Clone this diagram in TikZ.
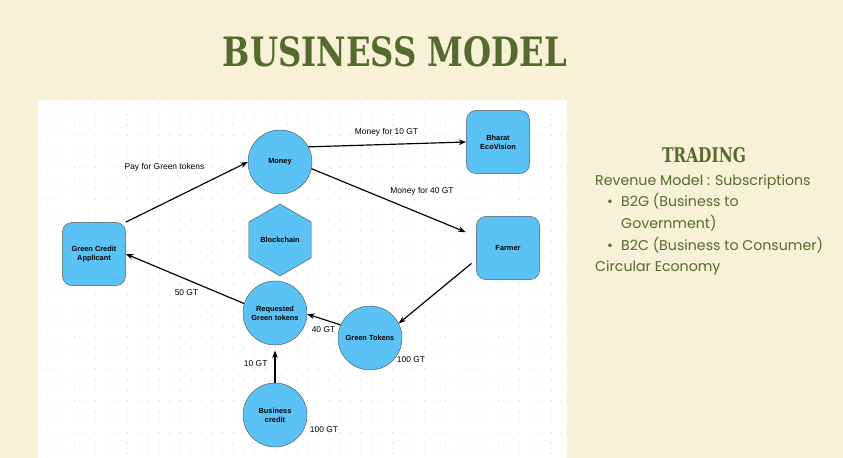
\documentclass[tikz,border=0pt]{standalone}
\usepackage{graphicx}
\usepackage{fontspec}
\setmainfont{Liberation Sans}
\newfontfamily\titlefont{DejaVu Serif}
\newfontfamily\panelfont{Poppins}
\usetikzlibrary{shapes.geometric, arrows.meta, positioning, calc}

\definecolor{cream}{RGB}{248,240,215}
\definecolor{olive}{RGB}{85,107,45}
\definecolor{skyfill}{RGB}{91,194,245}
\definecolor{dotgray}{RGB}{200,200,208}

\begin{document}
\begin{tikzpicture}[
    x=0.03cm, y=-0.03cm,
    circ/.style={circle, draw=black!65, fill=skyfill, minimum size=1.92cm, inner sep=0pt, align=center, font=\fontsize{6.3}{7.6}\selectfont\bfseries},
    box/.style={rectangle, rounded corners=0.3cm, draw=black!65, fill=skyfill, minimum width=1.9cm, minimum height=1.9cm, inner sep=0pt, align=center, font=\fontsize{6.3}{7.6}\selectfont\bfseries},
    hexa/.style={regular polygon, regular polygon sides=6, shape border rotate=30, draw=black!65, fill=skyfill, minimum size=2.16cm, inner sep=0pt, font=\fontsize{6.3}{7.6}\selectfont\bfseries},
    arrow/.style={-{Stealth[length=2.2mm,width=1.7mm]}, line width=1pt},
    lbl/.style={font=\fontsize{7.2}{8.6}\selectfont, inner sep=0pt},
    panel/.style={font=\panelfont\fontsize{12.1}{15}\selectfont, text=olive, anchor=base west, inner sep=0pt}
  ]

  % ---- background ----
  \fill[cream] (0,0) rectangle (843,458);
  \useasboundingbox (0,0) rectangle (843,458);
  \fill[white] (38,100) rectangle (567,458);
  \foreach \gx in {0,...,49}
    \foreach \gy in {0,...,33}
      \fill[dotgray] (42.7+10.6*\gx, 103.8+10.6*\gy) circle (0.45pt);

  % ---- title ----
  \node[text=olive, inner sep=0pt] (title) at (395,52) {\resizebox{10.32cm}{0.9cm}{\titlefont\bfseries BUSINESS MODEL}};

  % ---- diagram nodes ----
  \node[circ] (money) at (280,162) {Money};
  \node[hexa] (chain) at (280,240) {Blockchain};
  \node[box] (applicant) at (94,254) {Green Credit\\Applicant};
  \node[box] (bharat) at (498,142) {Bharat\\EcoVision};
  \node[box] (farmer) at (508,248) {Farmer};
  \node[circ] (request) at (275,313) {Requested\\Green tokens};
  \node[circ] (gtoken) at (370,338) {Green Tokens};
  \node[circ] (bcredit) at (275,415) {Business\\credit};

  % ---- connectors ----
  \draw[arrow] (applicant.north east) -- (money.west);
  \draw[arrow] (money.28) -- (bharat.west);
  \draw[arrow, shorten >=0.34cm] (money.-12) -- (farmer.160);
  \draw[arrow, shorten <=0.18cm] (farmer.200) -- (gtoken.27);
  \draw[arrow] (gtoken.156) -- (request.-2);
  \draw[arrow] (request.163) -- (applicant.east);
  \draw[arrow, shorten >=0.16cm] (bcredit.north) -- (request.south);

  % ---- labels ----
  \node[lbl] (paylbl) at (164.5,167) {Pay for Green tokens};
  \node[lbl] (m10lbl) at (386.5,132.7) {Money for 10 GT};
  \node[lbl] (m40lbl) at (422,191) {Money for 40 GT};
  \node[lbl] (g50lbl) at (186.5,292.7) {50 GT};
  \node[lbl] (g40lbl) at (323.5,330) {40 GT};
  \node[lbl] (g100lbl) at (411,360) {100 GT};
  \node[lbl] (g10lbl) at (255.7,364) {10 GT};
  \node[lbl] (b100lbl) at (324,430) {100 GT};

  % ---- right panel ----
  \node[text=olive, inner sep=0pt] (trading) at (704,155) {\resizebox{2.52cm}{0.45cm}{\titlefont\bfseries TRADING}};
  \node[panel] (rev) at (595,186) {Revenue Model : Subscriptions};
  \node[panel] (dot1) at (607,207) {\textbullet};
  \node[panel] (b2g) at (621,207) {B2G (Business to};
  \node[panel] (gov) at (621,229) {Government)};
  \node[panel] (dot2) at (607,251) {\textbullet};
  \node[panel] (b2c) at (621,251) {B2C (Business to Consumer)};
  \node[panel] (circ) at (595,272) {Circular Economy};
\end{tikzpicture}
\end{document}
